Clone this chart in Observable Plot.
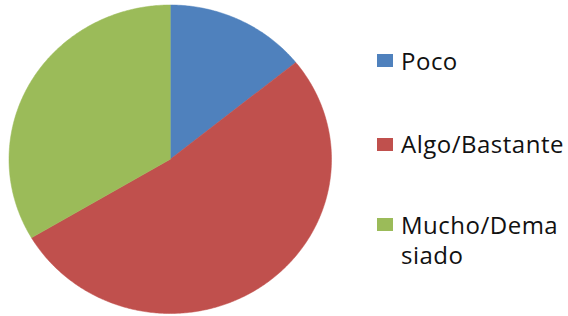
<!DOCTYPE html>
<html><head><meta charset="utf-8">
<script src="https://cdn.jsdelivr.net/npm/d3@7"></script>
<script src="https://cdn.jsdelivr.net/npm/@observablehq/plot@0.6"></script>
<style>
body{margin:0;background:#fff;}
#wrap{position:relative;width:568px;height:316px;overflow:hidden;}
#legend{position:absolute;left:0;top:0;font-family:"Open Sans",Lato,sans-serif;font-size:24px;letter-spacing:0.5px;color:#111;}
.sw{position:absolute;left:377px;width:16px;height:13px;}
.lbl{position:absolute;left:401px;line-height:30px;white-space:nowrap;}
</style></head>
<body><div id="wrap"><div id="legend"></div></div>
<script>
const categories = ["Poco", "Algo/Bastante", "Mucho/Demasiado"];
const legendLabels = [["Poco"], ["Algo/Bastante"], ["Mucho/Dema", "siado"]];
const values = [14.2, 52.3, 33.5];
const colors = ["#4F81BD", "#C0504D", "#9BBB59"];

const pie = d3.pie().sort(null).value(d => d)(values);
const pts = [];
pie.forEach((a, i) => {
  pts.push({name: categories[i], x: 0, y: 0});
  const n = Math.max(8, Math.ceil((a.endAngle - a.startAngle) / 0.01));
  for (let k = 0; k <= n; k++) {
    const t = a.startAngle + (a.endAngle - a.startAngle) * k / n;
    pts.push({name: categories[i], x: Math.sin(t), y: Math.cos(t)});
  }
  pts.push({name: categories[i], x: 0, y: 0});
});

const chart = Plot.plot({
  width: 568, height: 316,
  margin: 0,
  x: {domain: [-1, 1], range: [8.5, 331], axis: null},
  y: {domain: [-1, 1], range: [313, 4.5], axis: null},
  color: {domain: categories, range: colors},
  marks: [
    Plot.line(pts, {x: "x", y: "y", z: "name", fill: "name", stroke: "name", strokeWidth: 0.5, curve: "linear"})
  ]
});
document.getElementById("wrap").prepend(chart);

const swTops = [54, 138, 218];
const txtTops = [45.5, 129, 209.5];
const leg = document.getElementById("legend");
legendLabels.forEach((lines, i) => {
  const sw = document.createElement("div");
  sw.className = "sw"; sw.style.background = colors[i]; sw.style.top = swTops[i] + "px";
  const lb = document.createElement("div");
  lb.className = "lbl"; lb.style.top = txtTops[i] + "px";
  lb.innerHTML = lines.join("<br>");
  leg.append(sw, lb);
});
</script></body></html>
